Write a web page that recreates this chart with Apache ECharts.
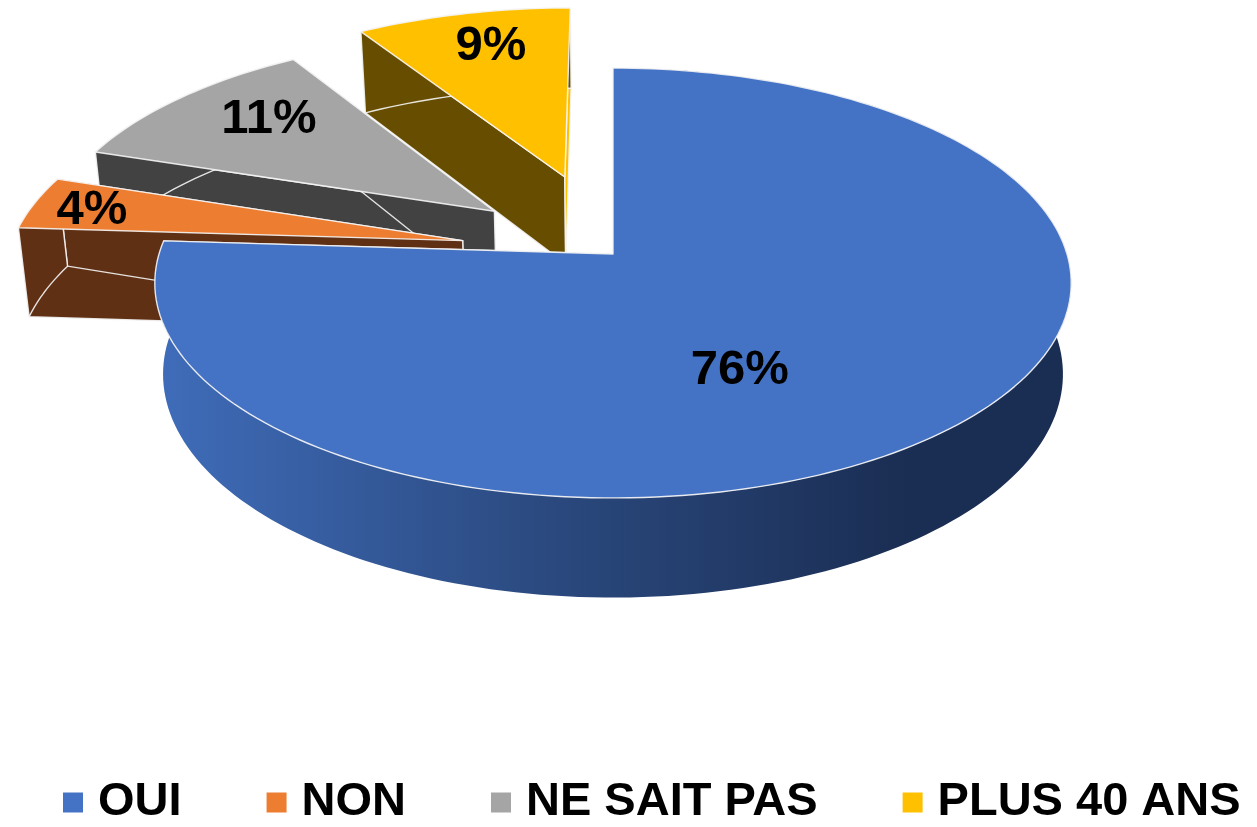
<!DOCTYPE html>
<html><head><meta charset="utf-8">
<style>html,body{margin:0;padding:0;background:#fff}#c{width:1257px;height:827px}</style>
<script src="https://cdn.jsdelivr.net/npm/echarts@6/dist/echarts.min.js"></script>
</head><body><div id="c"></div>
<script>
const categories = ['OUI', 'NON', 'NE SAIT PAS', 'PLUS 40 ANS'];
const values = [76, 4, 11, 9];
const topColors = ['#4472C4', '#ED7D31', '#A5A5A5', '#FFC000'];
const wallColors = ['#2a4676', '#5F3014', '#424242', '#664D00'];
const explode = [0, 0.34, 0.34, 0.40];
const labelDisk = [[0.26, 0.512], [-1.181, -0.2146], [-0.829, -0.695], [-0.31, -1.137]];
const drawOrder = [4, 3, 2, 1];

// Perspective view of the tilted disk
const VIEW = {cx: 613, cy: 254, R: 454, H: 211, k: 0.135, D: 90, shrink: 0.018};
function project(u, v, h) {
  const p = 1 - VIEW.k * v, s = 1 - VIEW.shrink * h;
  return [VIEW.cx + s * VIEW.R * u / p, VIEW.cy + (s * VIEW.H * v + h * VIEW.D) / p];
}
const total = values.reduce((a, b) => a + b, 0);
const starts = values.map((_, i) => values.slice(0, i).reduce((a, b) => a + b, 0) / total * 2 * Math.PI);

const blueWall = {type: 'linear', x: 160, y: 0, x2: 1000, y2: 0, global: true, colorStops: [
  {offset: 0, color: '#3F6CB9'}, {offset: 0.45, color: '#2B4A80'}, {offset: 0.9, color: '#1A2D52'}, {offset: 1, color: '#1A2D52'}]};
const edge = {stroke: 'rgba(245,245,245,0.9)', lineWidth: 1.4, lineJoin: 'round'};

function renderSlice(params, api) {
  const i = params.seriesIndex, share = api.value(0) / total * 2 * Math.PI;
  const a0 = starts[i], a1 = a0 + share, mid = a0 + share / 2;
  const ou = Math.sin(mid) * explode[i], ov = -Math.cos(mid) * explode[i];
  const rim = [], steps = Math.max(8, Math.ceil(share * 40));
  for (let s = 0; s <= steps; s++) {
    const a = a0 + share * s / steps;
    rim.push([ou + Math.sin(a), ov - Math.cos(a)]);
  }
  const P = (d, h) => project(d[0], d[1], h);
  const apex = [ou, ov], first = rim[0], last = rim[rim.length - 1];
  const fillWall = i === 0 ? blueWall : wallColors[i];
  const poly = (points, fill, st) => ({type: 'polygon', shape: {points}, style: Object.assign({fill}, st || edge)});
  const children = [
    poly([P(apex, 0), P(first, 0), P(first, 1), P(apex, 1)], wallColors[i]),
    poly([P(apex, 0), P(last, 0), P(last, 1), P(apex, 1)], i === 3 ? topColors[3] : wallColors[i]),
    poly(rim.map(d => P(d, 0)).concat(rim.slice().reverse().map(d => P(d, 1))), fillWall,
      i === 0 ? {stroke: 'none'} : edge),
    poly([P(apex, 0)].concat(rim.map(d => P(d, 0))), topColors[i])
  ];
  const lp = project(labelDisk[i][0], labelDisk[i][1], 0);
  children.push({type: 'text', style: {text: values[i] + '%', x: lp[0], y: lp[1], align: 'center', verticalAlign: 'middle',
    fill: '#000', font: 'bold 49px "Liberation Sans", Arial, sans-serif'}});
  return {type: 'group', children};
}

const chart = echarts.init(document.getElementById('c'), null, {renderer: 'canvas'});
chart.setOption({
  animation: false,
  backgroundColor: '#fff',
  legend: {
    data: categories, left: 63, top: 779, padding: 0, itemGap: 85, itemWidth: 20, itemHeight: 20,
    icon: 'rect', selectedMode: false,
    textStyle: {color: '#000', fontSize: 47, fontWeight: 'bold', fontFamily: '"Liberation Sans", Arial, sans-serif', padding: [0, 0, 0, 10]}
  },
  series: categories.map((name, i) => ({
    type: 'custom', name, coordinateSystem: 'none', z: drawOrder[3 - i] * 0 + (4 - i),
    itemStyle: {color: topColors[i]},
    data: [[values[i]]],
    renderItem: renderSlice,
    silent: true
  }))
});
</script></body></html>
